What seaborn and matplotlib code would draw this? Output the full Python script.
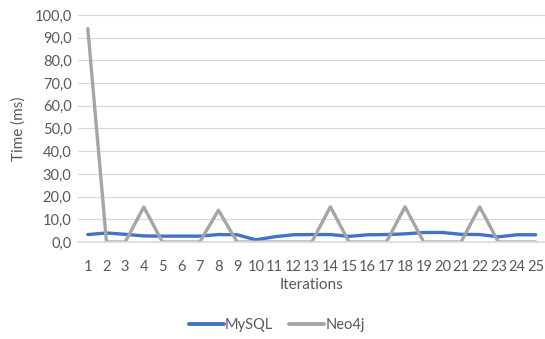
import matplotlib
matplotlib.use("Agg")
import matplotlib.pyplot as plt
from matplotlib.ticker import FuncFormatter, MultipleLocator
import seaborn as sns
import pandas as pd

iterations = list(range(1, 26))
mysql_ms = [3.3, 4.0, 3.4, 2.7, 2.6, 2.6, 2.6, 3.3, 3.2, 1.0, 2.3, 3.2, 3.3, 3.3, 2.5,
            3.2, 3.3, 3.6, 4.2, 4.2, 3.4, 3.3, 2.3, 3.2, 3.2]
neo4j_ms = [94.0, 0.0, 0.0, 15.4, 0.0, 0.0, 0.0, 14.0, 0.0, 0.0, 0.0, 0.0, 0.0, 15.5, 0.0,
            0.0, 0.0, 15.5, 0.0, 0.0, 0.0, 15.5, 0.0, 0.0, 0.0]
series_names = ["MySQL", "Neo4j"]

df = pd.DataFrame({
    "Iterations": iterations * 2,
    "Time (ms)": mysql_ms + neo4j_ms,
    "DB": [series_names[0]] * len(iterations) + [series_names[1]] * len(iterations),
})

sns.set_theme(style="white")
plt.rcParams["font.family"] = ["Lato", "DejaVu Sans"]

fig = plt.figure(figsize=(5.45, 3.39), dpi=100)
ax = fig.add_axes([0.144, 0.286, 0.856, 0.67])

sns.lineplot(data=df, x="Iterations", y="Time (ms)", hue="DB",
             palette={"MySQL": "#4472C4", "Neo4j": "#A5A5A5"},
             linewidth=2.4, ax=ax, legend=False)

ax.set_xlim(0.5, 25.5)
ax.set_ylim(0, 100)
ax.set_xticks(iterations)
ax.yaxis.set_major_locator(MultipleLocator(10))
ax.yaxis.set_major_formatter(FuncFormatter(lambda v, _: f"{v:.1f}".replace(".", ",")))
ax.tick_params(axis="both", length=0, labelsize=10.5, colors="#595959")
ax.tick_params(axis="x", pad=13)
ax.tick_params(axis="y", pad=5)
ax.grid(axis="y", color="#D9D9D9", linewidth=0.9)
ax.set_axisbelow(True)
for side in ["top", "right", "left"]:
    ax.spines[side].set_visible(False)
ax.spines["bottom"].set_color("#D9D9D9")
ax.set_xlabel("Iterations", fontsize=11, color="#595959", labelpad=3)
ax.set_ylabel("Time (ms)", fontsize=11, color="#595959", labelpad=6)

handles = [plt.Line2D([], [], color="#4472C4", lw=2.8),
           plt.Line2D([], [], color="#A5A5A5", lw=2.8)]
fig.legend(handles, series_names, loc="center", bbox_to_anchor=(0.508, 0.04), ncol=2,
           frameon=False, fontsize=10.5, handlelength=2.4, handletextpad=0.1,
           columnspacing=1.1, labelcolor="#595959")

fig.savefig("out.png", dpi=100, facecolor="white")
